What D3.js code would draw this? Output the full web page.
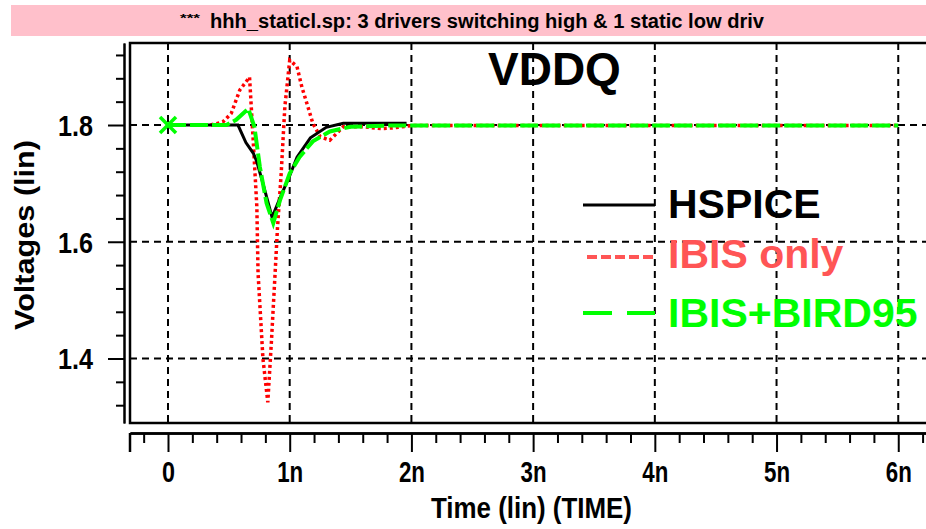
<!DOCTYPE html>
<html>
<head>
<meta charset="utf-8">
<script src="https://cdn.jsdelivr.net/npm/d3@7"></script>
<style>
  html, body { margin: 0; padding: 0; background: #fff; }
  svg { display: block; }
  .narrow { font-family: "Liberation Sans", Arial, sans-serif; font-weight: bold; }
  .bold { font-family: "Liberation Sans", Arial, sans-serif; font-weight: bold; }
</style>
</head>
<body>
<svg id="chart" width="926" height="529"></svg>
<script>
// ---------------- data ----------------
const titleText = "hhh_staticl.sp: 3 drivers switching high & 1 static low driv";
const xTickValues = [0, 1, 2, 3, 4, 5, 6];
const xTickLabels = ["0", "1n", "2n", "3n", "4n", "5n", "6n"];
const yTickValues = [1.4, 1.6, 1.8];
const yTickLabels = ["1.4", "1.6", "1.8"];
const seriesNames = ["HSPICE", "IBIS only", "IBIS+BIRD95"];

// time in ns, voltage in V
const hspiceT = [0, 0.2, 0.4, 0.575, 0.64, 0.70, 0.73, 0.78, 0.855, 0.93, 1.0, 1.06, 1.17, 1.3, 1.44, 1.6, 1.8, 1.96];
const hspiceV = [1.8, 1.8, 1.8, 1.8, 1.77, 1.752, 1.737, 1.70, 1.642, 1.68, 1.713, 1.745, 1.778, 1.796, 1.803, 1.803, 1.803, 1.803];

const ibisT = [0.35, 0.45, 0.52, 0.59, 0.67, 0.70, 0.73, 0.74, 0.78, 0.82, 0.85, 0.88, 0.90, 0.93, 0.96, 1.0, 1.06, 1.10, 1.15, 1.19, 1.25, 1.33, 1.44, 1.6, 1.75, 1.85, 2.0, 3.0, 4.0, 5.0, 6.0];
const ibisV = [1.8, 1.805, 1.82, 1.86, 1.882, 1.774, 1.66, 1.546, 1.40, 1.325, 1.43, 1.546, 1.625, 1.717, 1.831, 1.911, 1.90, 1.865, 1.831, 1.803, 1.78, 1.774, 1.797, 1.797, 1.794, 1.795, 1.799, 1.799, 1.799, 1.799, 1.799];

const birdT = [0, 0.3, 0.48, 0.56, 0.66, 0.71, 0.755, 0.81, 0.865, 0.92, 1.0, 1.08, 1.19, 1.33, 1.5, 1.8, 2.5, 4.0, 6.0];
const birdV = [1.8, 1.8, 1.8, 1.809, 1.828, 1.797, 1.728, 1.666, 1.632, 1.671, 1.717, 1.745, 1.772, 1.789, 1.797, 1.799, 1.799, 1.799, 1.799];

// ---------------- layout ----------------
const svg = d3.select("#chart");
const W = 926, H = 529;
const plot = { left: 130, top: 43, right: 926, bottom: 423 };

const x = d3.scaleLinear().domain([-0.3122, 6.228]).range([plot.left, plot.right]);
const y = d3.scaleLinear().domain([1.2895, 1.9405]).range([plot.bottom, plot.top]);

svg.append("rect").attr("width", W).attr("height", H).attr("fill", "#fff");

// title band
svg.append("rect").attr("x", 11).attr("y", 5).attr("width", W - 11).attr("height", 31).attr("fill", "#ffc0cb");
svg.append("text").attr("class", "narrow").attr("x", 180).attr("y", 22)
  .attr("font-size", 11).attr("textLength", 20).attr("lengthAdjust", "spacingAndGlyphs").text("***");
svg.append("text").attr("class", "narrow").attr("x", 210).attr("y", 28)
  .attr("font-size", 20).attr("textLength", 554).attr("lengthAdjust", "spacingAndGlyphs").text(titleText);

// grid
const grid = svg.append("g").attr("stroke", "#000").attr("stroke-width", 2).attr("stroke-dasharray", "7,5");
grid.selectAll("line.v").data(xTickValues).join("line")
  .attr("x1", d => x(d)).attr("x2", d => x(d)).attr("y1", plot.top).attr("y2", plot.bottom);
grid.selectAll("line.h").data(yTickValues).join("line")
  .attr("x1", plot.left).attr("x2", plot.right).attr("y1", d => y(d)).attr("y2", d => y(d));

// plot border (left, top, bottom)
svg.append("path")
  .attr("d", `M${plot.right},${plot.top}H${plot.left}V${plot.bottom}H${plot.right}`)
  .attr("fill", "none").attr("stroke", "#000").attr("stroke-width", 2.5);

// y axis
const yAxisX = 124;
const yMinor = d3.range(1.32, 1.93, 0.04).map(v => +v.toFixed(2)).filter(v => !yTickValues.includes(v));
const yMinorAxis = svg.append("g").attr("transform", `translate(${yAxisX},0)`)
  .call(d3.axisLeft(y).tickValues(yMinor).tickSize(8).tickSizeOuter(0).tickFormat(""));
const yMajorAxis = svg.append("g").attr("transform", `translate(${yAxisX},0)`)
  .call(d3.axisLeft(y).tickValues(yTickValues).tickSize(16).tickSizeOuter(0)
    .tickFormat((d, i) => yTickLabels[i]));
[yMinorAxis, yMajorAxis].forEach(g => {
  g.selectAll("path.domain").attr("stroke", "#000").attr("stroke-width", 2);
  g.selectAll(".tick line").attr("stroke", "#000").attr("stroke-width", 2);
});
yMajorAxis.selectAll(".tick text").attr("class", "narrow").attr("font-size", 29)
  .attr("fill", "#000").attr("x", -31).attr("dy", "0.36em")
  .attr("textLength", 35).attr("lengthAdjust", "spacingAndGlyphs");

// x axis (separate box below)
const xAxisY = 433;
const xMinor = d3.range(-0.2, 6.21, 0.2).map(v => +v.toFixed(1)).filter(v => !xTickValues.includes(v));
const xMinorAxis = svg.append("g").attr("transform", `translate(0,${xAxisY})`)
  .call(d3.axisBottom(x).tickValues(xMinor).tickSize(10).tickSizeOuter(0).tickFormat(""));
const xMajorAxis = svg.append("g").attr("transform", `translate(0,${xAxisY})`)
  .call(d3.axisBottom(x).tickValues(xTickValues).tickSize(19).tickSizeOuter(0)
    .tickFormat((d, i) => xTickLabels[i]));
[xMinorAxis, xMajorAxis].forEach(g => {
  g.selectAll("path.domain").attr("stroke", "#000").attr("stroke-width", 2.5);
  g.selectAll(".tick line").attr("stroke", "#000").attr("stroke-width", 2);
});
xMajorAxis.selectAll(".tick text").attr("class", "narrow").attr("font-size", 29)
  .attr("fill", "#000").attr("y", 28).attr("dy", "0.71em")
  .attr("textLength", (d, i) => xTickLabels[i].length === 1 ? 13 : 26)
  .attr("lengthAdjust", "spacingAndGlyphs");
svg.append("line").attr("x1", plot.left).attr("x2", plot.left).attr("y1", xAxisY).attr("y2", xAxisY + 19)
  .attr("stroke", "#000").attr("stroke-width", 2.5);

// axis titles
svg.append("text").attr("class", "narrow").attr("font-size", 29)
  .attr("x", 431).attr("y", 518).attr("textLength", 201).attr("lengthAdjust", "spacingAndGlyphs")
  .text("Time (lin) (TIME)");
svg.append("text").attr("class", "narrow").attr("font-size", 27)
  .attr("transform", "translate(34,330) rotate(-90)")
  .attr("textLength", 190).attr("lengthAdjust", "spacingAndGlyphs").text("Voltages (lin)");

// curves
const line = d3.line().x(d => x(d[0])).y(d => y(d[1]));
const zipS = (t, v) => t.map((d, i) => [d, v[i]]);

svg.append("path").datum(zipS(ibisT, ibisV)).attr("d", line)
  .attr("fill", "none").attr("stroke", "#ff0000").attr("stroke-width", 3.5).attr("stroke-dasharray", "3,3");
svg.append("path").datum(zipS(hspiceT, hspiceV)).attr("d", line)
  .attr("fill", "none").attr("stroke", "#000").attr("stroke-width", 3);
svg.append("path").datum(zipS(birdT, birdV)).attr("d", line)
  .attr("fill", "none").attr("stroke", "#00ff00").attr("stroke-width", 4).attr("stroke-dasharray", "18,4");

// start marker (X) on IBIS+BIRD95
const m = svg.append("g").attr("stroke", "#00ff00").attr("stroke-width", 3.5)
  .attr("transform", `translate(${x(birdT[0])},${y(birdV[0])})`);
m.append("line").attr("x1", -8).attr("y1", -8).attr("x2", 8).attr("y2", 8);
m.append("line").attr("x1", -8).attr("y1", 8).attr("x2", 8).attr("y2", -8);

// annotation
svg.append("text").attr("class", "bold").attr("font-size", 46).attr("x", 488).attr("y", 85).attr("fill", "#000").text("VDDQ");

// legend
const legendColors = ["#000000", "#ff5555", "#00ff00"];
const legendDash = [null, "10,4", "29,15"];
const legendY = [205, 257, 313];
const legendTextY = [218, 268, 327];
const lg = svg.append("g");
seriesNames.forEach((name, i) => {
  lg.append("line").attr("x1", i === 1 ? 587 : 583).attr("x2", 655).attr("y1", legendY[i]).attr("y2", legendY[i])
    .attr("stroke", legendColors[i]).attr("stroke-width", i === 0 ? 3 : 4)
    .attr("stroke-dasharray", legendDash[i]);
  lg.append("text").attr("class", "bold").attr("font-size", 41).attr("x", 668).attr("y", legendTextY[i])
    .attr("fill", legendColors[i]).text(name);
});
</script>
</body>
</html>
